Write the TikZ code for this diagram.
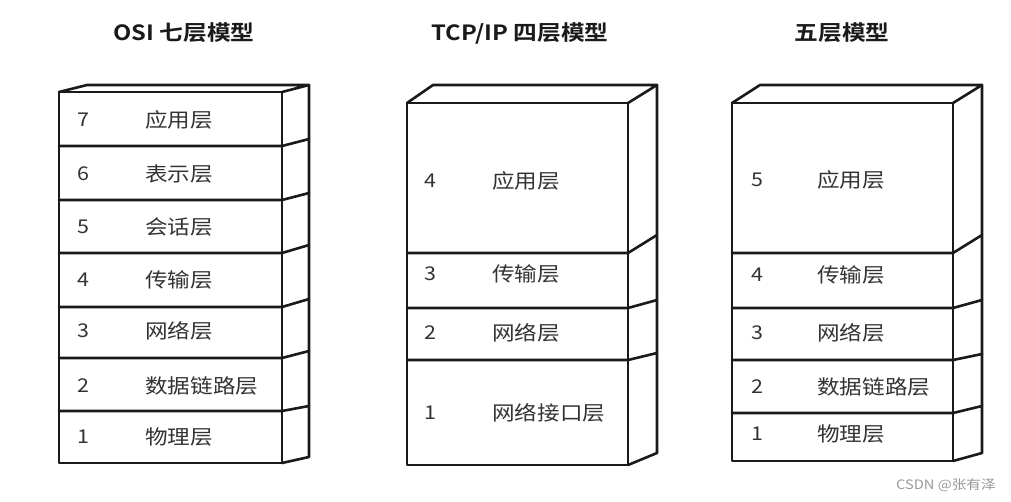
\documentclass[tikz,border=0pt]{standalone}
\usepackage{fontspec}
\setmainfont{Noto Sans CJK SC}[BoldFont={Noto Sans CJK SC Bold},FakeStretch=1.13]
\definecolor{lc}{HTML}{1A1A1A}
\definecolor{tc}{HTML}{333333}
\definecolor{wm}{HTML}{9A9A9A}
\begin{document}
\begin{tikzpicture}[x=1pt,y=-1pt,
  box/.style={draw=lc,line width=2.6pt,line join=round,line cap=round},
  num/.style={inner sep=0pt,anchor=center,text=tc,font=\fontsize{19}{19}\selectfont},
  lbl/.style={inner sep=0pt,anchor=west,text=tc,font=\fontsize{20}{20}\selectfont},
  ttl/.style={inner sep=0pt,anchor=center,text=lc,font=\fontsize{21}{21}\selectfont\bfseries},
  wmk/.style={inner sep=0pt,anchor=center,text=wm,font=\fontsize{13}{13}\selectfont}]
\useasboundingbox (0,0) rectangle (1011,501);
\fill[white] (0,0) rectangle (1011,501);

% titles
\node[ttl] (t1) at (184,33) {OSI 七层模型};
\node[ttl] (t2) at (520,33) {TCP/IP 四层模型};
\node[ttl] (t3) at (842,33) {五层模型};

% ---- stack 1: OSI ----
\draw[box] (59,92) rectangle (282,463);
\draw[box] (59,92) -- (87,85) -- (309,85) -- (282,92);
\draw[box] (309,85) -- (309,457) -- (282,463);
\foreach \y/\b in {146/139,200/193,253/245,307/299,358/351,411/406}
  \draw[box] (59,\y) -- (282,\y) -- (309,\b);
\node[num] (a7) at (83,120) {7}; \node[lbl] (l7) at (145,120) {应用层};
\node[num] (a6) at (83,174) {6}; \node[lbl] (l6) at (145,174) {表示层};
\node[num] (a5) at (83,227) {5}; \node[lbl] (l5) at (145,227) {会话层};
\node[num] (a4) at (83,280) {4}; \node[lbl] (l4) at (145,280) {传输层};
\node[num] (a3) at (83,331) {3}; \node[lbl] (l3) at (145,331) {网络层};
\node[num] (a2) at (83,386) {2}; \node[lbl] (l2) at (145,386) {数据链路层};
\node[num] (a1) at (83,437) {1}; \node[lbl] (l1) at (145,437) {物理层};

% ---- stack 2: TCP/IP ----
\draw[box] (407,103) rectangle (628,465);
\draw[box] (407,103) -- (433,85) -- (657,85) -- (628,103);
\draw[box] (657,85) -- (657,453) -- (628,465);
\foreach \y/\b in {253/235,308/300,360/353}
  \draw[box] (407,\y) -- (628,\y) -- (657,\b);
\node[num] (b4) at (430,181) {4}; \node[lbl] (m4) at (492,181) {应用层};
\node[num] (b3) at (430,274) {3}; \node[lbl] (m3) at (492,274) {传输层};
\node[num] (b2) at (430,333) {2}; \node[lbl] (m2) at (492,333) {网络层};
\node[num] (b1) at (430,413) {1}; \node[lbl] (m1) at (492,413) {网络接口层};

% ---- stack 3: five layers ----
\draw[box] (732,103) rectangle (953,461);
\draw[box] (732,103) -- (760,85) -- (982,85) -- (953,103);
\draw[box] (982,85) -- (982,453) -- (953,461);
\foreach \y/\b in {253/235,308/300,360/354,413/406}
  \draw[box] (732,\y) -- (953,\y) -- (982,\b);
\node[num] (c5) at (757,180) {5}; \node[lbl] (n5) at (817,180) {应用层};
\node[num] (c4) at (757,275) {4}; \node[lbl] (n4) at (817,275) {传输层};
\node[num] (c3) at (757,333) {3}; \node[lbl] (n3) at (817,333) {网络层};
\node[num] (c2) at (757,387) {2}; \node[lbl] (n2) at (817,387) {数据链路层};
\node[num] (c1) at (757,434) {1}; \node[lbl] (n1) at (817,434) {物理层};

% watermark
\node[wmk] (wmark) at (946,485) {CSDN @张有泽};
\end{tikzpicture}
\end{document}
